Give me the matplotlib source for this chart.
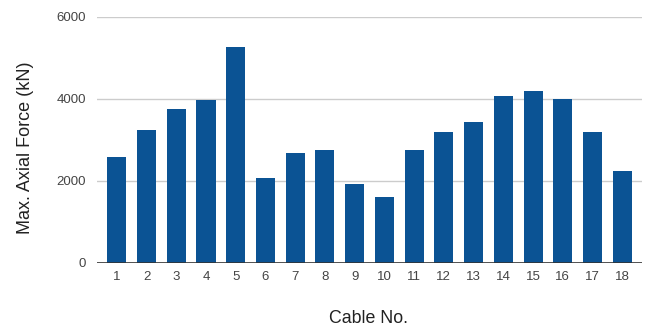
import matplotlib
matplotlib.use("Agg")
import matplotlib.pyplot as plt

cables = [str(i) for i in range(1, 19)]
max_axial_force = [2570, 3250, 3760, 3980, 5270, 2080, 2680, 2740, 1930,
                   1600, 2740, 3200, 3430, 4060, 4200, 3990, 3200, 2250]
y_ticks = [0, 2000, 4000, 6000]

plt.rcParams['font.family'] = ['Liberation Sans', 'DejaVu Sans']

fig = plt.figure(figsize=(6.46, 3.27), dpi=100)
ax = fig.add_axes([0.150, 0.196, 0.844, 0.753])

x = list(range(1, len(cables) + 1))
ax.bar(x, max_axial_force, width=0.64, color='#0b5394', zorder=3)

ax.set_xlim(0.33, 18.67)
ax.set_ylim(0, 6000)
ax.set_yticks(y_ticks)
ax.set_yticklabels([str(v) for v in y_ticks])
ax.set_xticks(x)
ax.set_xticklabels(cables)

for v in y_ticks[1:]:
    ax.axhline(v, color='#cccccc', linewidth=1.0, zorder=1)
ax.axhline(0, color='#333333', linewidth=1.2, zorder=4)

for s in ax.spines.values():
    s.set_visible(False)
ax.tick_params(axis='both', length=0, labelsize=9.5, colors='#444444')
ax.tick_params(axis='y', pad=8)
ax.tick_params(axis='x', pad=6)

fig.text(0.0387, 0.549, 'Max. Axial Force (kN)', rotation=90,
         ha='center', va='center', fontsize=13, color='#222222')
fig.text(0.571, 0.027, 'Cable No.', ha='center', va='center',
         fontsize=12.8, color='#222222')

fig.savefig('out.png', dpi=100, facecolor='white')
